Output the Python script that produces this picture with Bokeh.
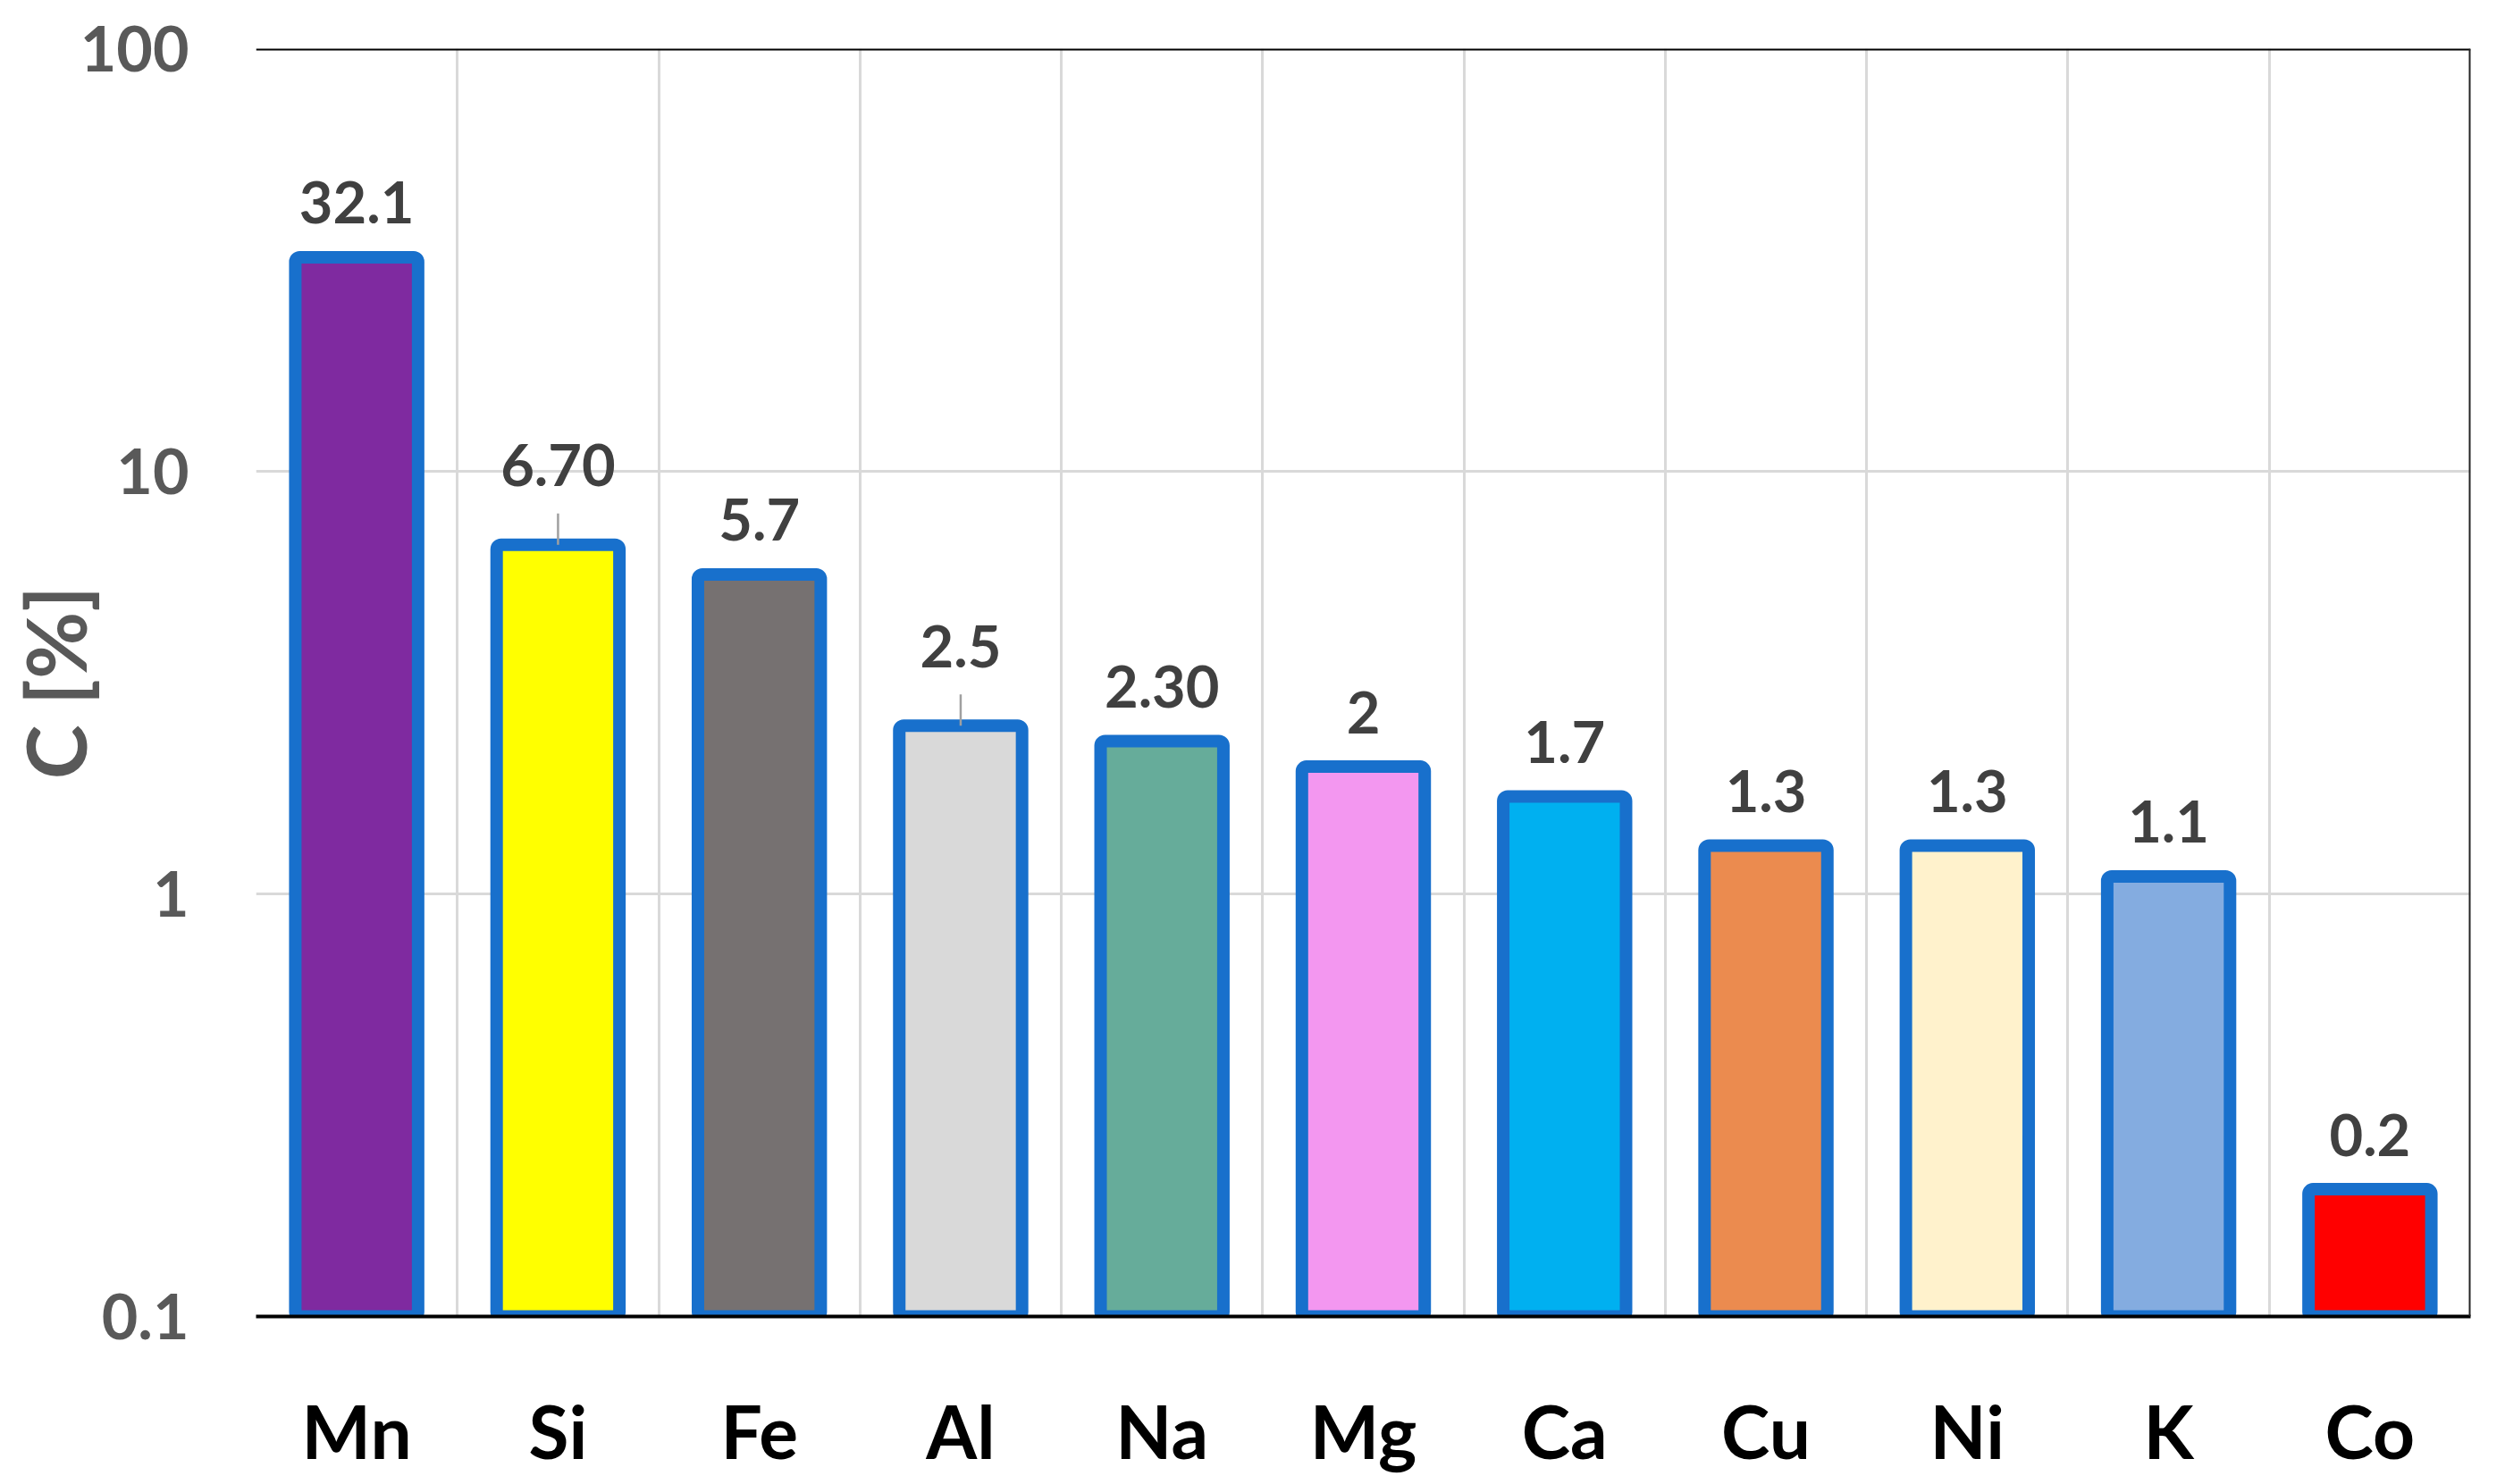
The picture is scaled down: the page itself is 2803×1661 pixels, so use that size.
from bokeh.plotting import figure
from bokeh.models import ColumnDataSource, FixedTicker, CustomJSTickFormatter, Span, Range1d
from bokeh.embed import file_html
from bokeh.resources import INLINE

# ---- data ----
categories = ["Mn", "Si", "Fe", "Al", "Na", "Mg", "Ca", "Cu", "Ni", "K", "Co"]
values = [32.1, 6.70, 5.7, 2.5, 2.30, 2.0, 1.7, 1.3, 1.3, 1.1, 0.2]
value_labels = ["32.1", "6.70", "5.7", "2.5", "2.30", "2", "1.7", "1.3", "1.3", "1.1", "0.2"]
bar_colors = ["#7F2AA0", "#FFFF00", "#767171", "#D9D9D9", "#66AC9A", "#F397F0",
              "#00B0F0", "#EB8B4F", "#FFF2CC", "#84ACE0", "#FF0000"]
y_ticks = [0.1, 1, 10, 100]
leader_categories = ["Si", "Al"]   # labels drawn with a leader line

# ---- style ----
FONT = "Lato"
OUTLINE = "#1870CC"
GRID = "#D9D9D9"
n = len(categories)
idx = list(range(n))
label_off = [-89 if c in leader_categories else -61 for c in categories]

src = ColumnDataSource(dict(x=idx, top=values, color=bar_colors,
                            label=value_labels, off=label_off))

p = figure(width=2787, height=1661, y_axis_type="log",
           x_range=Range1d(-0.5, n - 0.5), y_range=Range1d(0.1, 100),
           output_backend="svg", toolbar_location=None,
           min_border_left=286, min_border_right=23,
           min_border_top=54, min_border_bottom=188)
p.outline_line_color = None
p.background_fill_color = "white"
p.border_fill_color = "white"

# grids
p.xgrid.ticker = FixedTicker(ticks=[i - 0.5 for i in range(n)])
p.xgrid.grid_line_color = GRID
p.xgrid.grid_line_width = 3
p.ygrid.ticker = FixedTicker(ticks=y_ticks)
p.ygrid.grid_line_color = GRID
p.ygrid.grid_line_width = 3
p.ygrid.minor_grid_line_color = None

# frame borders (top / right)
p.add_layout(Span(location=100, dimension="width", line_color="black", line_width=4))
p.add_layout(Span(location=n - 0.5, dimension="height", line_color="#222222", line_width=4))

# bars
p.vbar(x="x", top="top", bottom=0.1, width=0.61, source=src,
       fill_color="color", line_color=OUTLINE, line_width=14, border_radius=5)

# leader lines
lx = [categories.index(c) for c in leader_categories]
ly = [values[i] for i in lx]
p.segment(x0=lx, x1=lx, y0=ly, y1=[v * 1.186 for v in ly],
          line_color="#A0A0A0", line_width=2.5)

# value labels
p.text(x="x", y="top", text="label", source=src, y_offset="off",
       text_align="center", text_baseline="middle",
       text_font={"value": FONT}, text_font_style="bold",
       text_font_size="65px", text_color="#404040")

# x axis
xa = p.xaxis[0]
xa.ticker = FixedTicker(ticks=idx)
xa.major_label_overrides = {i: c for i, c in enumerate(categories)}
xa.major_tick_line_color = None
xa.minor_tick_line_color = None
xa.major_tick_out = 0
xa.axis_line_color = "black"
xa.axis_line_width = 4
xa.major_label_standoff = 78
xa.major_label_text_font = FONT
xa.major_label_text_font_style = "bold"
xa.major_label_text_font_size = "82px"
xa.major_label_text_color = "black"

# y axis
ya = p.yaxis[0]
ya.ticker = FixedTicker(ticks=y_ticks)
ya.formatter = CustomJSTickFormatter(code="return String(tick);")
ya.major_tick_line_color = None
ya.minor_tick_line_color = None
ya.major_tick_out = 0
ya.axis_line_color = None
ya.major_label_standoff = 75
ya.major_label_text_font = FONT
ya.major_label_text_font_style = "bold"
ya.major_label_text_font_size = "70px"
ya.major_label_text_color = "#595959"
ya.axis_label = "C [%]"
ya.axis_label_text_font = FONT
ya.axis_label_text_font_style = "bold"
ya.axis_label_text_font_size = "92px"
ya.axis_label_text_color = "#595959"
ya.axis_label_standoff = -30

open("out.html", "w").write(file_html(p, INLINE))
